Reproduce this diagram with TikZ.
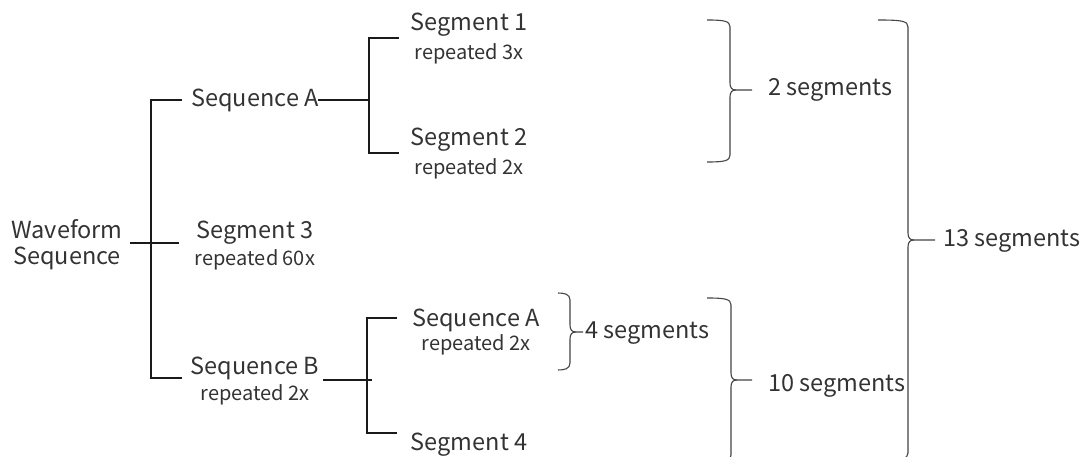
\documentclass[tikz,border=0pt]{standalone}
\usepackage{fontspec}
\setmainfont{Noto Sans CJK SC}
\definecolor{txt}{HTML}{333333}
\definecolor{ln}{HTML}{1A1A1A}
\definecolor{br}{HTML}{444444}
\newcommand\curlybr[6]{% xend, xvert, ytop, ymid, ybot, xtip
  \draw[brace] ({#1},{#3}) .. controls ({#2-6},{#3}) and ({#2},{#3+1}) .. ({#2},{#3+7})
    -- ({#2},{#4-7}) .. controls ({#2},{#4-2}) and ({#2+2},{#4}) .. ({#2+6},{#4}) -- ({#6},{#4});
  \draw[brace] ({#2+6},{#4}) .. controls ({#2+2},{#4}) and ({#2},{#4+2}) .. ({#2},{#4+7})
    -- ({#2},{#5-7}) .. controls ({#2},{#5-1}) and ({#2-6},{#5}) .. ({#1},{#5});
}
\begin{document}
\begin{tikzpicture}[x=1pt,y=-1pt,
  main/.style={text=txt,font=\fontsize{23.5}{26}\selectfont,inner sep=0pt,align=center},
  sub/.style={text=txt,font=\fontsize{20}{24}\selectfont,inner sep=0pt,yshift=-2pt},
  tree/.style={draw=ln,line width=1.1pt},
  brace/.style={draw=br,line width=1.1pt}]
\useasboundingbox (0,0) rectangle (1081,457);
\clip (0,0) rectangle (1081,457);
% nodes
\node[main] (wf) at (67,245) {Waveform\\Sequence};
\node[main] (seqA) at (255,100) {Sequence A};
\node[main] (seg3) at (255,233) {Segment 3};
\node[sub] (seg3r) at (255,258) {repeated 60x};
\node[main] (seqB) at (255,368) {Sequence B};
\node[sub] (seqBr) at (255,393) {repeated 2x};
\node[main] (seg1) at (469,25) {Segment 1};
\node[sub] (seg1r) at (469,52) {repeated 3x};
\node[main] (seg2) at (469,140) {Segment 2};
\node[sub] (seg2r) at (469,167) {repeated 2x};
\node[main] (seqA2) at (476,320) {Sequence A};
\node[sub] (seqA2r) at (476,343) {repeated 2x};
\node[main] (seg4) at (469,445) {Segment 4};
\node[main,anchor=west] (l2) at (768,90) {2 segments};
\node[main,anchor=west] (l4) at (585,333) {4 segments};
\node[main,anchor=west] (l10) at (768,386) {10 segments};
\node[main,anchor=west] (l13) at (943,241) {13 segments};
% coordinates
\coordinate (a0) at (182,100); \coordinate (a1) at (151,100);
\coordinate (a2) at (151,378); \coordinate (a3) at (182,378);
\coordinate (w0) at (130,243); \coordinate (w1) at (179,243);
\coordinate (s0) at (318,100); \coordinate (s1) at (369,100);
\coordinate (c0) at (399,38); \coordinate (c1) at (369,38);
\coordinate (c2) at (369,153); \coordinate (c3) at (399,153);
\coordinate (b0) at (323,380); \coordinate (b1) at (372,380);
\coordinate (d0) at (397,318); \coordinate (d1) at (367,318);
\coordinate (d2) at (367,433); \coordinate (d3) at (397,433);
% tree connectors
\draw[tree] (a0) -- (a1) -- (a2) -- (a3);
\draw[tree] (w0) -- (w1);
\draw[tree] (s0) -- (s1);
\draw[tree] (c0) -- (c1) -- (c2) -- (c3);
\draw[tree] (b0) -- (b1);
\draw[tree] (d0) -- (d1) -- (d2) -- (d3);
% braces
\curlybr{707}{730}{20}{90}{162}{752}
\curlybr{558}{570}{293}{332}{370}{583}
\curlybr{707}{731}{298}{380}{462}{752}
\curlybr{878}{908}{20}{240}{460}{935}
\end{tikzpicture}
\end{document}
